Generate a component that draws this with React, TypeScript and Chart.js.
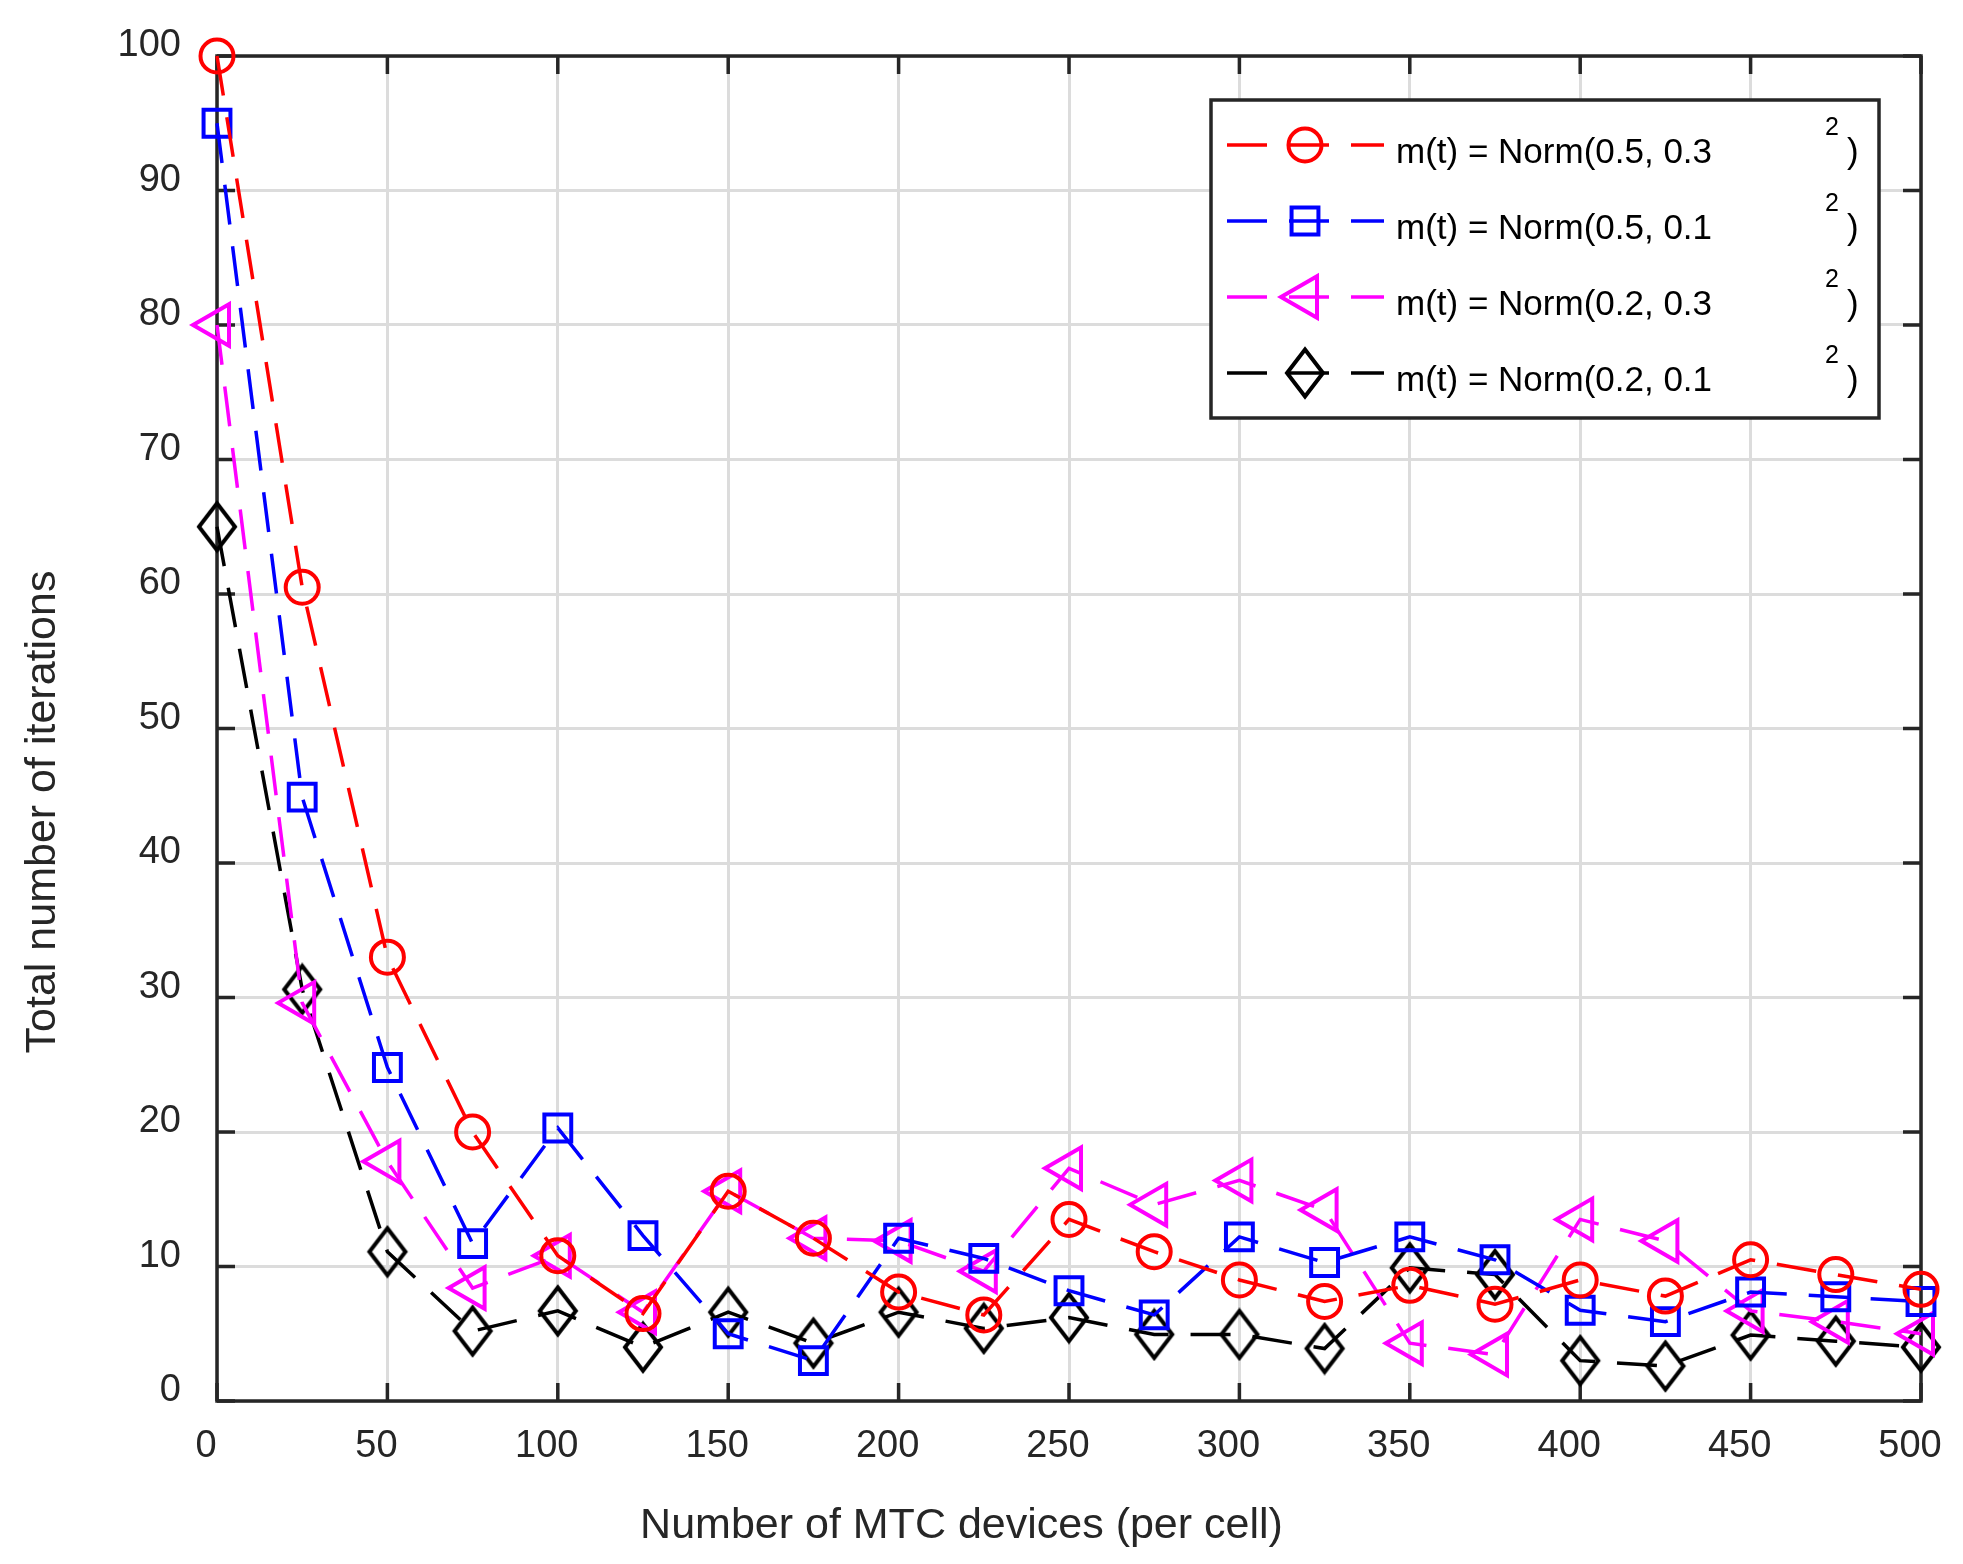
import React, { useEffect, useRef } from 'react';
import { Chart, registerables } from 'chart.js';

Chart.register(...registerables);

// ---------------- data ----------------
const xValues = [0, 25, 50, 75, 100, 125, 150, 175, 200, 225, 250, 275, 300, 325, 350, 375, 400, 425, 450, 475, 500];

const seriesNames = [
  'm(t) = Norm(0.5, 0.3',
  'm(t) = Norm(0.5, 0.1',
  'm(t) = Norm(0.2, 0.3',
  'm(t) = Norm(0.2, 0.1',
];
const seriesSuperscript = '2';
const seriesClosing = ')';

const redValues = [100, 60.5, 33, 20, 10.8, 6.5, 15.6, 12.1, 8.1, 6.4, 13.5, 11.1, 9.0, 7.4, 8.6, 7.2, 9.0, 7.8, 10.5, 9.4, 8.3];
const blueValues = [95, 44.9, 24.8, 11.7, 20.3, 12.3, 5.0, 3.0, 12.1, 10.6, 8.2, 6.4, 12.2, 10.3, 12.2, 10.5, 6.75, 5.9, 8.1, 7.75, 7.4];
const magentaValues = [80, 29.6, 17.8, 8.4, 10.8, 6.6, 15.6, 12.1, 11.9, 9.65, 17.3, 14.6, 16.4, 14.2, 4.3, 3.45, 13.5, 11.9, 6.7, 5.9, 5.0];
const blackValues = [65, 30.6, 11.1, 5.2, 6.7, 4.0, 6.6, 4.3, 6.6, 5.4, 6.2, 4.95, 4.95, 3.9, 9.9, 9.4, 3.0, 2.6, 4.9, 4.45, 4.0];

const xTickValues = [0, 50, 100, 150, 200, 250, 300, 350, 400, 450, 500];
const yTickValues = [0, 10, 20, 30, 40, 50, 60, 70, 80, 90, 100];

const xAxisTitle = 'Number of MTC devices (per cell)';
const yAxisTitle = 'Total number of iterations';

// ---------------- styles ----------------
const FONT = "'Liberation Sans', Arial, Helvetica, sans-serif";
const AXIS_COLOR = '#262626';
const GRID_COLOR = '#dcdcdc';
const W = 1963;
const H = 1564;
const TICK_LEN = 18;
const DASH = [40, 22];
const LINE_W = 3.5;
const MARKER_W = 4;

function makeDiamond(color: string): HTMLCanvasElement {
  const c = document.createElement('canvas');
  c.width = 44;
  c.height = 54;
  const g = c.getContext('2d')!;
  g.strokeStyle = color;
  g.lineWidth = MARKER_W;
  g.lineJoin = 'miter';
  g.beginPath();
  g.moveTo(22, 3.5);
  g.lineTo(40, 27);
  g.lineTo(22, 50.5);
  g.lineTo(4, 27);
  g.closePath();
  g.stroke();
  return c;
}

function drawMarker(ctx: CanvasRenderingContext2D, ds: any, x: number, y: number) {
  const style = ds.pointStyle;
  ctx.save();
  ctx.strokeStyle = ds.borderColor;
  ctx.lineWidth = MARKER_W;
  ctx.setLineDash([]);
  ctx.beginPath();
  if (style === 'circle') {
    ctx.arc(x, y, ds.pointRadius, 0, Math.PI * 2);
    ctx.stroke();
  } else if (style === 'rect') {
    const s = ds.pointRadius * Math.SQRT1_2;
    ctx.rect(x - s, y - s, 2 * s, 2 * s);
    ctx.stroke();
  } else if (style === 'triangle') {
    const r = ds.pointRadius;
    let rad = (ds.pointRotation * Math.PI) / 180;
    ctx.moveTo(x + Math.sin(rad) * r, y - Math.cos(rad) * r);
    rad += (2 * Math.PI) / 3;
    ctx.lineTo(x + Math.sin(rad) * r, y - Math.cos(rad) * r);
    rad += (2 * Math.PI) / 3;
    ctx.lineTo(x + Math.sin(rad) * r, y - Math.cos(rad) * r);
    ctx.closePath();
    ctx.stroke();
  } else if (style && typeof style === 'object') {
    ctx.drawImage(style, x - style.width / 2, y - style.height / 2);
  }
  ctx.restore();
}

const framePlugin = {
  id: 'matlabFrame',
  beforeDatasetsDraw(chart: any) {
    const { ctx, chartArea: a, scales } = chart;
    ctx.save();
    ctx.strokeStyle = AXIS_COLOR;
    ctx.lineWidth = 3.5;
    ctx.setLineDash([]);
    ctx.strokeRect(a.left, a.top, a.right - a.left, a.bottom - a.top);
    ctx.beginPath();
    scales.x.ticks.forEach((t: any) => {
      const px = scales.x.getPixelForValue(t.value);
      ctx.moveTo(px, a.bottom);
      ctx.lineTo(px, a.bottom - TICK_LEN);
      ctx.moveTo(px, a.top);
      ctx.lineTo(px, a.top + TICK_LEN);
    });
    scales.y.ticks.forEach((t: any) => {
      const py = scales.y.getPixelForValue(t.value);
      ctx.moveTo(a.left, py);
      ctx.lineTo(a.left + TICK_LEN, py);
      ctx.moveTo(a.right, py);
      ctx.lineTo(a.right - TICK_LEN, py);
    });
    ctx.stroke();
    ctx.restore();
  },
  afterDraw(chart: any) {
    const { ctx } = chart;
    ctx.save();
    // axis titles
    ctx.fillStyle = AXIS_COLOR;
    ctx.font = `43px ${FONT}`;
    ctx.textAlign = 'center';
    ctx.textBaseline = 'alphabetic';
    ctx.fillText(xAxisTitle, 961.5, 1538);
    ctx.save();
    ctx.translate(55, 812);
    ctx.rotate(-Math.PI / 2);
    ctx.fillText(yAxisTitle, 0, 0);
    ctx.restore();

    // legend
    const bx = 1211, by = 100, bw = 668, bh = 318;
    ctx.fillStyle = '#ffffff';
    ctx.fillRect(bx, by, bw, bh);
    ctx.strokeStyle = AXIS_COLOR;
    ctx.lineWidth = 3.5;
    ctx.strokeRect(bx, by, bw, bh);
    const rows = [145, 221, 297, 373];
    chart.data.datasets.forEach((ds: any, i: number) => {
      const y = rows[i];
      ctx.save();
      ctx.strokeStyle = ds.borderColor;
      ctx.lineWidth = LINE_W;
      ctx.setLineDash(ds.borderDash);
      ctx.beginPath();
      ctx.moveTo(1227, y);
      ctx.lineTo(1384, y);
      ctx.stroke();
      ctx.restore();
      drawMarker(ctx, ds, 1305, y);
      ctx.fillStyle = '#000000';
      ctx.textAlign = 'left';
      ctx.textBaseline = 'alphabetic';
      ctx.font = `35px ${FONT}`;
      ctx.fillText(ds.label, 1396, y + 18);
      ctx.fillText(seriesClosing, 1847, y + 18);
      ctx.font = `25px ${FONT}`;
      ctx.fillText(seriesSuperscript, 1825, y - 10.5);
    });
    ctx.restore();
  },
};

export default function App() {
  const canvasRef = useRef<HTMLCanvasElement | null>(null);

  useEffect(() => {
    if (!canvasRef.current) return;
    const diamond = makeDiamond('#000000');
    const mk = (vals: number[]) => xValues.map((x, i) => ({ x, y: vals[i] }));
    const base = {
      borderWidth: LINE_W,
      borderDash: DASH,
      pointBorderWidth: MARKER_W,
      pointBackgroundColor: 'rgba(0,0,0,0)',
      pointHoverRadius: 0,
      fill: false,
      tension: 0,
      clip: false as any,
    };
    const chart = new Chart(canvasRef.current, {
      type: 'line',
      data: {
        datasets: [
          { ...base, label: seriesNames[0], data: mk(redValues), borderColor: '#ff0000', pointBorderColor: '#ff0000', pointStyle: 'circle', pointRadius: 16.5, pointRotation: 0 },
          { ...base, label: seriesNames[1], data: mk(blueValues), borderColor: '#0000ff', pointBorderColor: '#0000ff', pointStyle: 'rect', pointRadius: 19, pointRotation: 0 },
          { ...base, label: seriesNames[2], data: mk(magentaValues), borderColor: '#ff00ff', pointBorderColor: '#ff00ff', pointStyle: 'triangle', pointRadius: 24, pointRotation: -90 },
          { ...base, label: seriesNames[3], data: mk(blackValues), borderColor: '#000000', pointBorderColor: '#000000', pointStyle: diamond as any, pointRadius: 22, pointRotation: 0 },
        ] as any,
      },
      options: {
        animation: false,
        responsive: true,
        maintainAspectRatio: false,
        events: [],
        layout: { padding: { top: 56, right: 42, left: 0, bottom: 0 } },
        plugins: {
          legend: { display: false },
          tooltip: { enabled: false },
          title: { display: false },
        },
        scales: {
          x: {
            type: 'linear',
            min: 0,
            max: 500,
            afterBuildTicks: (scale: any) => {
              scale.ticks = xTickValues.map((v) => ({ value: v }));
            },
            afterFit: (scale: any) => {
              scale.height = H - 1401;
              scale.paddingLeft = 0;
              scale.paddingRight = 0;
              scale.paddingTop = 0;
              scale.paddingBottom = 0;
            },
            border: { display: false },
            grid: { color: GRID_COLOR, lineWidth: 3, drawTicks: false },
            ticks: {
              padding: 23,
              labelOffset: -11,
              color: AXIS_COLOR,
              font: { family: FONT, size: 38 },
              maxRotation: 0,
              autoSkip: false,
              callback: (v: any) => String(v),
            },
            title: { display: false },
          },
          y: {
            type: 'linear',
            min: 0,
            max: 100,
            afterBuildTicks: (scale: any) => {
              scale.ticks = yTickValues.map((v) => ({ value: v }));
            },
            afterFit: (scale: any) => {
              scale.width = 217;
              scale.paddingLeft = 0;
              scale.paddingRight = 0;
              scale.paddingTop = 0;
              scale.paddingBottom = 0;
            },
            border: { display: false },
            grid: { color: GRID_COLOR, lineWidth: 3, drawTicks: false },
            ticks: {
              padding: 36,
              labelOffset: -10,
              color: AXIS_COLOR,
              font: { family: FONT, size: 38 },
              autoSkip: false,
              callback: (v: any) => String(v),
            },
            title: { display: false },
          },
        },
      } as any,
      plugins: [framePlugin],
    });
    return () => chart.destroy();
  }, []);

  return (
    <div style={{ position: 'fixed', left: 0, top: 0, width: W, height: H, background: '#ffffff' }}>
      <canvas ref={canvasRef} />
    </div>
  );
}
